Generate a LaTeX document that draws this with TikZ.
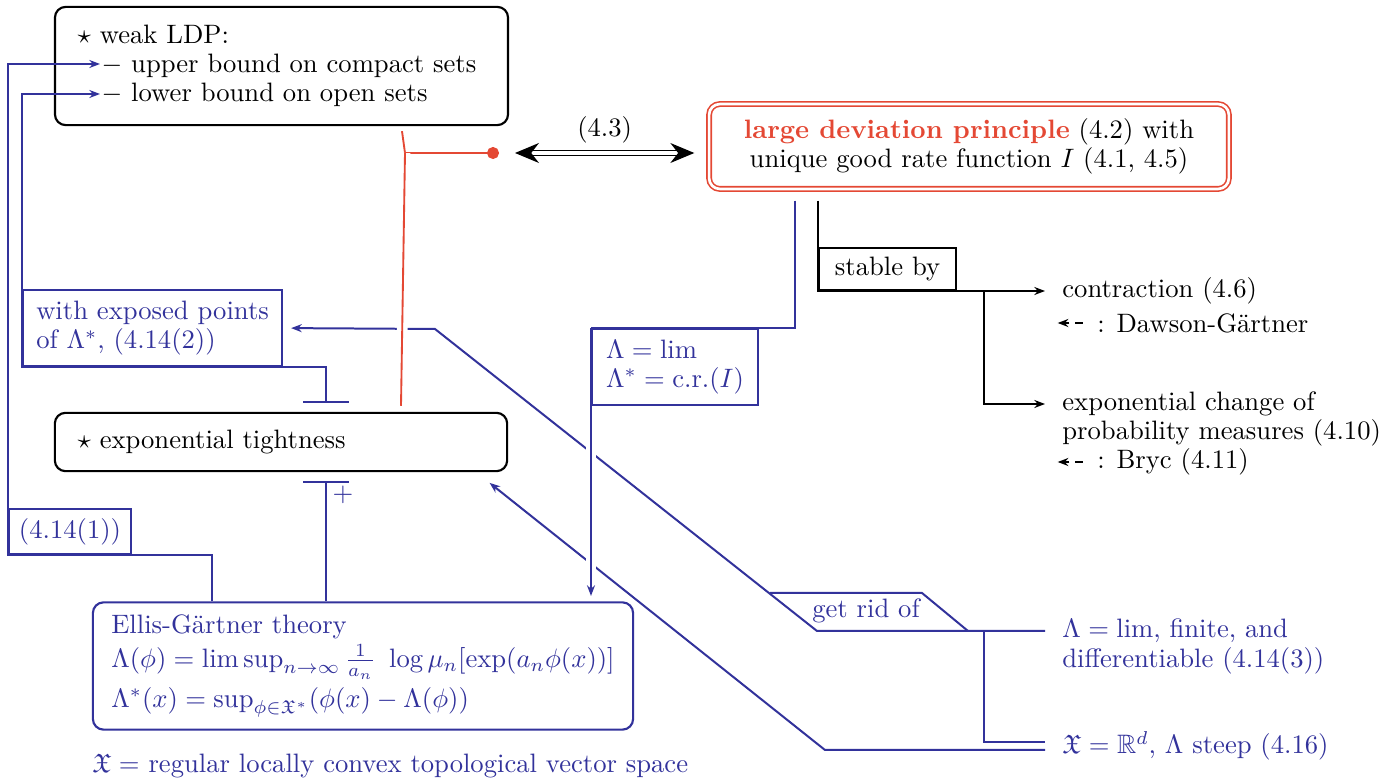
\documentclass[tikz,border=0pt]{standalone}
\usepackage{amsmath,amssymb}
\usepackage{fontspec}
\usepackage{tikz}
\usetikzlibrary{arrows.meta,positioning,calc}
\definecolor{LdpRed}{RGB}{228,72,52}
\definecolor{ThBlue}{RGB}{50,50,155}

\begin{document}
\begin{tikzpicture}[
  x=0.0132cm, y=-0.0132cm,
  every node/.style={font=\fontsize{10}{11}\selectfont},
  box/.style={draw, thick, rounded corners=4pt, align=left},
  lbl/.style={draw=ThBlue, text=ThBlue, line width=0.75pt, align=left, anchor=south west},
  txt/.style={anchor=west},
  bl/.style={ThBlue, line width=0.75pt},
  arr/.style={-{Stealth[length=4pt,width=3pt]}, line width=0.75pt},
  barr/.style={{Bar[width=17pt]}-{Stealth[length=4pt,width=3pt]}, line width=0.75pt},
  halo/.style={draw=white, line width=4pt},
  redl/.style={LdpRed, line width=0.7pt},
  dblarr/.style={{Stealth[length=9pt,width=7.5pt]}-{Stealth[length=9pt,width=7.5pt]},
    double, double distance=1.2pt, line width=0.5pt}
]
  \useasboundingbox (0,0) rectangle (1398,780);

  % statements
  \node[box, text width=5.38cm, inner xsep=0.3cm, minimum height=1.56cm] (weak) at (281.5,66)
    {$\star$ weak LDP:\\\hspace*{9pt}$-$ upper bound on compact sets\\\hspace*{9pt}$-$ lower bound on open sets};
  \node[box, text width=5.37cm, inner xsep=0.3cm, minimum height=0.77cm] (tight) at (281,442)
    {$\star$ exponential tightness};
  \node[draw=LdpRed, double=white, double distance=1pt, line width=0.6pt, rounded corners=4pt,
    align=center, minimum width=6.86cm, minimum height=1.12cm] (ldp) at (969,146.5)
    {\textcolor{LdpRed}{\textbf{large deviation principle}} (4.2) with\\unique good rate function $I$ (4.1, 4.5)};
  \node[box, draw=ThBlue, text=ThBlue, minimum width=7.13cm, minimum height=1.68cm,
    font=\fontsize{10}{12.8}\selectfont\setlength{\lineskiplimit}{-20pt}] (ellis) at (363,666)
    {Ellis-Gärtner theory\\
     $\Lambda(\phi)=\limsup_{n\to\infty}\frac{1}{a_n}\ \log\mu_n[\exp(a_n\phi(x))]$\\[2.2pt]
     $\Lambda^*(x)=\sup_{\phi\in\mathfrak{X}^*}(\phi(x)-\Lambda(\phi))$};
  \node[txt, text=ThBlue] (space) at (83,766) {$\mathfrak{X} =$ regular locally convex topological vector space};

  \coordinate (up) at (100,64);
  \coordinate (lo) at (100,94);
  \coordinate (fork) at (405,153);

  % labels on the connectors
  \node[lbl, minimum width=3.42cm, minimum height=1cm] (expo) at (22,367) {with exposed points\\of $\Lambda^*$, (4.14(2))};
  \node[lbl, minimum width=1.61cm, minimum height=0.59cm] (g141) at (8,555) {(4.14(1))};
  \node[lbl, anchor=north west, minimum width=2.19cm, minimum height=1cm] (lam) at (591,328)
    {$\Lambda=\lim$\\$\Lambda^*=\text{c.r.}(I)$};
  \node[draw, line width=0.75pt, anchor=south west, minimum width=1.81cm, minimum height=0.5cm] (stab) at (818,291) {stable by};
  \node[text=ThBlue] (rid) at (866,611) {get rid of};
  \node[text=ThBlue] (plus) at (343,495) {$+$};

  % right column
  \node[txt] (con) at (1053,291) {contraction (4.6)};
  \node[txt] (dg) at (1088,323) {: Dawson-Gärtner};
  \node[txt] (exc) at (1053,404) {exponential change of};
  \node[txt] (prob) at (1053,433) {probability measures (4.10)};
  \node[txt] (bryc) at (1088,462) {: Bryc (4.11)};
  \node[txt, text=ThBlue] (fin) at (1053,631) {$\Lambda=\lim$, finite, and};
  \node[txt, text=ThBlue] (diff) at (1053,661) {differentiable (4.14(3))};
  \node[txt, text=ThBlue] (rd) at (1053,746) {$\mathfrak{X}=\mathbb{R}^d$, $\Lambda$ steep (4.16)};

  % stable by
  \draw[arr] ($(ldp.south -| 818,0)+(0,11)$) |- ([xshift=-3pt]con.west);
  \draw[arr] (984,0 |- con.west) |- ([xshift=-3pt]exc.west);
  \draw[arr, dash pattern=on 3pt off 2pt] ([xshift=-2pt]dg.west) -- ++(-25,0);
  \draw[arr, dash pattern=on 3pt off 2pt] ([xshift=-2pt]bryc.west) -- ++(-25,0);

  % Ellis-Gaertner side
  \draw[bl, arr] ([xshift=-3pt]fin.west) -- (817,0 |- fin.west) -- (435,329) -- ([xshift=3pt]expo.east);
  \draw[bl] (770,593) -- (922,593) -- (968,631);
  \draw[bl] (984,0 |- fin.west) |- ([xshift=-3pt,yshift=1.5pt]rd.west);
  \draw[bl, arr] ([xshift=-3pt,yshift=-1.5pt]rd.west) -- (825,750) -- ([xshift=-7pt,yshift=-4pt]tight.south east);

  \draw[bl] ($(ldp.south -| 795,0)+(0,11)$) |- (lam.north west);
  \draw[halo] (lam.south west) -- ($(lam.south west |- ellis.north)+(0,-12)$);
  \draw[bl, arr] (lam.north west) -- ([yshift=2pt]lam.north west |- ellis.north);

  \draw[bl, barr] ($(tight.north -| 326,0)+(0,-9)$) |- (expo.south west) |- (lo);
  \draw[bl, {Bar[width=17pt]}-] ($(tight.south -| 326,0)+(0,9)$) -- (326,0 |- ellis.north);
  \draw[bl, arr] (212,0 |- ellis.north) |- (g141.south west) |- (up);

  % weak LDP + tightness
  \draw[redl, -{Circle[length=4.5pt]}] ($(weak.south -| 402,0)+(0,5)$) -- (fork) -- ($(fork)+(94,0)$);
  \draw[redl, preaction={halo}] ($(tight.north -| 401,0)+(0,-6)$) -- (fork);
  \draw[dblarr] ($(fork)+(110,0)$) -- ($(fork -| ldp.west)+(-14,0)$) node[midway, above] (eq) {(4.3)};
\end{tikzpicture}
\end{document}
